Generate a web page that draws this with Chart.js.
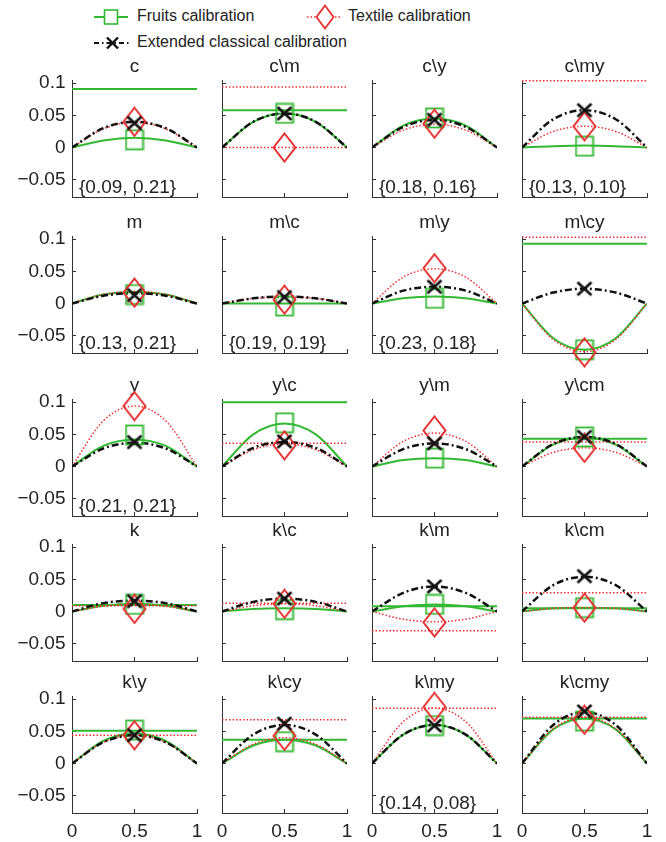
<!DOCTYPE html>
<html>
<head>
<meta charset="utf-8">
<script src="https://cdn.jsdelivr.net/npm/chart.js@4.4.1/dist/chart.umd.min.js"></script>
<style>
  html, body { margin: 0; padding: 0; background: #fff; }
  body { width: 666px; height: 842px; position: relative; overflow: hidden; font-family: "Liberation Sans", Arial, sans-serif; }
  canvas.panel { position: absolute; }
  .leg { position: absolute; font-size: 16px; color: #222; white-space: nowrap; line-height: 20px; }
  svg.key { position: absolute; }
</style>
</head>
<body>

<!-- legend -->
<svg class="key" style="left:92px; top:3px;" width="42" height="28">
  <line x1="2" y1="14" x2="36" y2="14" stroke="#33b833" stroke-width="2"/>
  <rect x="12.5" y="7" width="13" height="14" fill="#fff" stroke="#33b833" stroke-width="1.6"/>
</svg>
<div class="leg" style="left:137px; top:6px;">Fruits calibration</div>

<svg class="key" style="left:304px; top:3px;" width="42" height="28">
  <line x1="3" y1="14" x2="38" y2="14" stroke="#ee3030" stroke-width="1.5" stroke-dasharray="1.5 2"/>
  <polygon points="21,2.5 29.5,14 21,25.5 12.5,14" fill="#fff" stroke="#e53030" stroke-width="1.8"/>
</svg>
<div class="leg" style="left:348px; top:6px;">Textile calibration</div>

<svg class="key" style="left:92px; top:29px;" width="42" height="28">
  <line x1="2" y1="14" x2="38" y2="14" stroke="#111" stroke-width="2.2" stroke-dasharray="5 3 1.5 3"/>
  <line x1="15" y1="8.5" x2="26" y2="19.5" stroke="#111" stroke-width="2.4"/>
  <line x1="26" y1="8.5" x2="15" y2="19.5" stroke="#111" stroke-width="2.4"/>
</svg>
<div class="leg" style="left:137px; top:32px;">Extended classical calibration</div>

<script>
// ---- data ----
const panelTitles = ['c', 'c\\m', 'c\\y', 'c\\my',
                     'm', 'm\\c', 'm\\y', 'm\\cy',
                     'y', 'y\\c', 'y\\m', 'y\\cm',
                     'k', 'k\\c', 'k\\m', 'k\\cm',
                     'k\\y', 'k\\cy', 'k\\my', 'k\\cmy'];

const panelNotes = ['{0.09, 0.21}', '', '{0.18, 0.16}', '{0.13, 0.10}',
                    '{0.13, 0.21}', '{0.19, 0.19}', '{0.23, 0.18}', '',
                    '{0.21, 0.21}', '', '', '',
                    '', '', '', '',
                    '', '', '{0.14, 0.08}', ''];

const curveX = [0, 0.25, 0.5, 0.75, 1];

const fruitsCurve = [
  [0, 0.011, 0.015, 0.011, 0], [0, 0.040, 0.053, 0.040, 0], [0, 0.034, 0.045, 0.034, 0], [0, 0.002, 0.003, 0.002, 0],
  [0, 0.014, 0.018, 0.014, 0], [0, 0, 0, 0, 0],             [0, 0.008, 0.011, 0.008, 0], [0, -0.054, -0.072, -0.054, 0],
  [0, 0.032, 0.042, 0.032, 0], [0, 0.050, 0.067, 0.050, 0], [0, 0.010, 0.013, 0.010, 0], [0, 0.034, 0.045, 0.034, 0],
  [0, 0.009, 0.012, 0.009, 0], [0, 0.004, 0.005, 0.004, 0], [0, 0.008, 0.011, 0.008, 0], [0, 0.005, 0.006, 0.005, 0],
  [0, 0.035, 0.047, 0.035, 0], [0, 0.028, 0.037, 0.028, 0], [0, 0.045, 0.060, 0.045, 0], [0, 0.053, 0.070, 0.053, 0]
];
const textileCurve = [
  [0, 0.029, 0.039, 0.029, 0], [0, 0, 0, 0, 0],             [0, 0.027, 0.036, 0.027, 0], [0, 0.025, 0.033, 0.025, 0],
  [0, 0.014, 0.019, 0.014, 0], [0, 0.008, 0.010, 0.008, 0], [0, 0.041, 0.054, 0.041, 0], [0, -0.056, -0.075, -0.056, 0],
  [0, 0.071, 0.094, 0.071, 0], [0, 0.026, 0.035, 0.026, 0], [0, 0.039, 0.052, 0.039, 0], [0, 0.022, 0.029, 0.022, 0],
  [0, 0.008, 0.011, 0.008, 0], [0, 0.009, 0.012, 0.009, 0], [0, -0.012, -0.016, -0.012, 0], [0, 0.005, 0.006, 0.005, 0],
  [0, 0.033, 0.044, 0.033, 0], [0, 0.030, 0.040, 0.030, 0], [0, 0.065, 0.086, 0.065, 0], [0, 0.054, 0.072, 0.054, 0]
];
const extendedCurve = [
  [0, 0.030, 0.040, 0.030, 0], [0, 0.040, 0.053, 0.040, 0], [0, 0.032, 0.043, 0.032, 0], [0, 0.044, 0.058, 0.044, 0],
  [0, 0.012, 0.016, 0.012, 0], [0, 0.008, 0.011, 0.008, 0], [0, 0.020, 0.026, 0.020, 0], [0, 0.017, 0.023, 0.017, 0],
  [0, 0.028, 0.037, 0.028, 0], [0, 0.029, 0.038, 0.029, 0], [0, 0.027, 0.036, 0.027, 0], [0, 0.035, 0.046, 0.035, 0],
  [0, 0.013, 0.017, 0.013, 0], [0, 0.015, 0.020, 0.015, 0], [0, 0.029, 0.039, 0.029, 0], [0, 0.041, 0.054, 0.041, 0],
  [0, 0.033, 0.044, 0.033, 0], [0, 0.045, 0.060, 0.045, 0], [0, 0.045, 0.060, 0.045, 0], [0, 0.060, 0.080, 0.060, 0]
];

// value of each marker at x = 0.5
const fruitsMark   = [0.012, 0.053, 0.046, 0.002,  0.014, -0.004, 0.008, -0.072,  0.049, 0.068, 0.013, 0.046,  0.011, 0.003, 0.011, 0.006,  0.052, 0.034, 0.059, 0.066];
const textileMark  = [0.040, 0.000, 0.037, 0.033,  0.017, 0.006, 0.055, -0.076,  0.094, 0.033, 0.056, 0.029,  0.004, 0.012, -0.017, 0.006,  0.044, 0.043, 0.088, 0.068];
const extendedMark = [0.038, 0.053, 0.043, 0.058,  0.013, 0.010, 0.026, 0.023,  0.038, 0.039, 0.036, 0.046,  0.016, 0.020, 0.039, 0.055,  0.044, 0.062, 0.059, 0.081];

// constant (horizontal) levels, null where the panel has none
const fruitsLevel  = [0.091, 0.058, null, null,  null, null, null, 0.093,  null, 0.100, null, 0.043,  0.010, null, 0.008, 0.005,  0.051, 0.037, null, 0.070];
const textileLevel = [null, 0.094, null, 0.104,  null, null, null, 0.103,  null, 0.036, null, 0.038,  0.009, 0.013, -0.030, 0.029,  0.044, 0.068, 0.086, 0.072];

const xTicks = [0, 0.5, 1];
const yTicks = [-0.05, 0, 0.05, 0.1];
const yMin = -0.077, yMax = 0.105;

// ---- drawing ----
const GREEN = '#33b833', RED = '#ee3030', BLACK = '#111';
const FONT = '"Liberation Sans", Arial, sans-serif';

function markImage(kind) {
  const c = document.createElement('canvas');
  const g = c.getContext('2d');
  if (kind === 'square') {
    c.width = 20; c.height = 22;
    g.strokeStyle = GREEN; g.lineWidth = 1.8;
    g.strokeRect(1.5, 1.5, 17, 19);
  } else if (kind === 'diamond') {
    c.width = 25; c.height = 31;
    g.strokeStyle = '#e53030'; g.lineWidth = 2;
    g.beginPath();
    g.moveTo(12.5, 1.5); g.lineTo(23.5, 15.5); g.lineTo(12.5, 29.5); g.lineTo(1.5, 15.5);
    g.closePath(); g.stroke();
  } else {
    c.width = 18; c.height = 17;
    g.strokeStyle = BLACK; g.lineWidth = 2.6;
    g.beginPath();
    g.moveTo(2, 2); g.lineTo(16, 15);
    g.moveTo(16, 2); g.lineTo(2, 15);
    g.stroke();
  }
  return c;
}
const squareImg = markImage('square');
const diamondImg = markImage('diamond');
const crossImg = markImage('cross');

function curveSet(ys, color, width, dash) {
  return {
    data: curveX.map((x, i) => ({ x: x, y: ys[i] })),
    borderColor: color, borderWidth: width, borderDash: dash,
    pointRadius: 0, cubicInterpolationMode: 'monotone', fill: false
  };
}
function levelSet(v, color, width, dash) {
  return {
    data: [{ x: xTicks[0], y: v }, { x: xTicks[xTicks.length - 1], y: v }],
    borderColor: color, borderWidth: width, borderDash: dash,
    pointRadius: 0, fill: false
  };
}
function markSet(v, img) {
  return {
    data: [{ x: 0.5, y: v }],
    showLine: false, pointStyle: img, pointRadius: 10, clip: false
  };
}

const notePlugin = {
  id: 'note',
  afterDatasetsDraw(chart, args, opts) {
    if (!opts.text) return;
    const ctx = chart.ctx, a = chart.chartArea;
    ctx.save();
    ctx.font = '19px ' + FONT;
    ctx.fillStyle = '#222';
    ctx.textBaseline = 'alphabetic';
    ctx.fillText(opts.text, a.left + 7, a.bottom - 4);
    ctx.restore();
  }
};

const colLeft = [12, 162, 312, 462];
const rowTop = [55, 211, 374, 519, 671];

function yLabel(v) {
  return v < 0 ? '\u2212' + (-v) : String(v);
}

panelTitles.forEach((title, i) => {
  const row = Math.floor(i / 4), col = i % 4;
  const canvas = document.createElement('canvas');
  canvas.className = 'panel';
  canvas.width = 245; canvas.height = 176;
  canvas.style.left = colLeft[col] + 'px';
  canvas.style.top = rowTop[row] + 'px';
  canvas.style.width = '245px'; canvas.style.height = '176px';
  document.body.appendChild(canvas);

  const datasets = [
    markSet(extendedMark[i], crossImg),
    markSet(textileMark[i], diamondImg),
    markSet(fruitsMark[i], squareImg),
    curveSet(extendedCurve[i], BLACK, 2.5, [7, 3, 2, 3]),
    curveSet(textileCurve[i], RED, 1.5, [1.5, 2])
  ];
  if (textileLevel[i] !== null) datasets.push(levelSet(textileLevel[i], RED, 1.5, [1.5, 2]));
  datasets.push(curveSet(fruitsCurve[i], GREEN, 2, []));
  if (fruitsLevel[i] !== null) datasets.push(levelSet(fruitsLevel[i], GREEN, 2, []));

  new Chart(canvas, {
    type: 'line',
    data: { datasets: datasets },
    plugins: [notePlugin],
    options: {
      responsive: false,
      animation: false,
      events: [],
      devicePixelRatio: 1,
      layout: { padding: { left: 0, right: 60, top: 0, bottom: 0 } },
      plugins: {
        legend: { display: false },
        tooltip: { enabled: false },
        title: {
          display: true, text: title, color: '#222',
          fullSize: false, // centre over the plot, not over the y axis
          font: { family: FONT, size: 19, weight: 'normal', lineHeight: 1 },
          padding: { top: 2, bottom: 4 }
        },
        note: { text: panelNotes[i] }
      },
      scales: {
        x: {
          type: 'linear', min: 0, max: 1,
          afterBuildTicks: s => { s.ticks = xTicks.map(v => ({ value: v })); },
          afterFit: s => { s.height = 34; },
          grid: { drawOnChartArea: false, drawTicks: true, tickLength: -4, color: '#333', lineWidth: 1 },
          border: { display: true, color: '#333', width: 1 },
          ticks: {
            display: row === 4, padding: 11, color: '#222', maxRotation: 0, autoSkip: false,
            font: { family: FONT, size: 19 },
            callback: v => String(v)
          }
        },
        y: {
          type: 'linear', min: yMin, max: yMax,
          afterBuildTicks: s => { s.ticks = yTicks.map(v => ({ value: v })); },
          afterFit: s => { s.width = 60; },
          grid: { drawOnChartArea: false, drawTicks: true, tickLength: -4, color: '#333', lineWidth: 1 },
          border: { display: true, color: '#333', width: 1 },
          ticks: {
            display: col === 0, padding: 10.5, color: '#222',
            font: { family: FONT, size: 19 },
            callback: v => yLabel(v)
          }
        }
      }
    }
  });
});
</script>
</body>
</html>
